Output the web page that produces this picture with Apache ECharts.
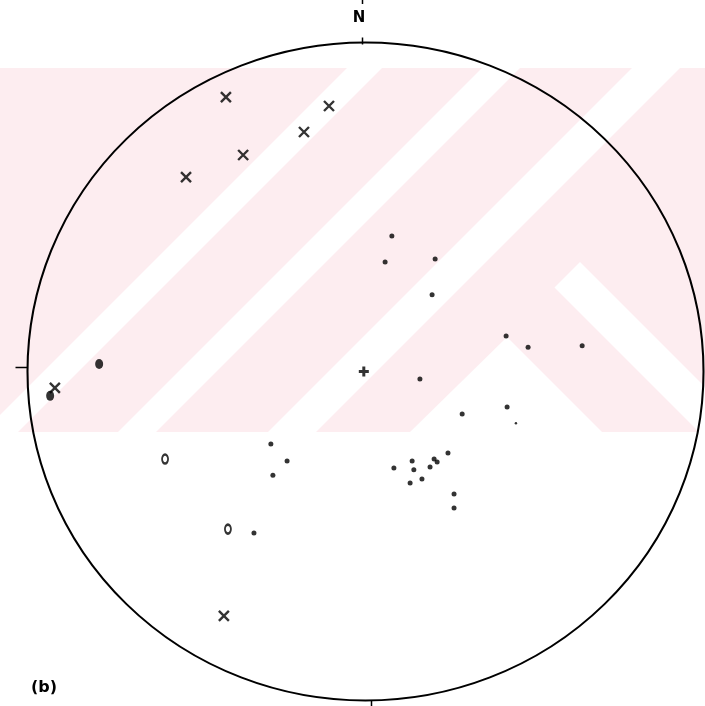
<!DOCTYPE html>
<html>
<head>
<meta charset="utf-8">
<script src="https://cdn.jsdelivr.net/npm/echarts@6/dist/echarts.min.js"></script>
<style>
  html, body { margin: 0; padding: 0; background: #fff; }
  #chart { width: 705px; height: 706px; }
</style>
</head>
<body>
<div id="chart"></div>
<script>
  // stereonet positions on the unit circle (x = east, y = north)
  var crossPts = [
    [-0.413, 0.834], [-0.108, 0.807], [-0.182, 0.728], [-0.362, 0.658],
    [-0.531, 0.591], [-0.919, -0.050], [-0.419, -0.743]
  ];
  var bigDots = [[-0.788, 0.023], [-0.933, -0.074]];
  var openCircles = [[-0.593, -0.266], [-0.407, -0.479]];
  var centerPt = [[-0.005, 0.0]];
  var smallDots = [
    [0.078, 0.412], [0.058, 0.333], [0.206, 0.342], [0.197, 0.233],
    [0.416, 0.108], [0.481, 0.074], [0.641, 0.078], [0.161, -0.023],
    [0.419, -0.108], [0.286, -0.129], [0.244, -0.248], [0.084, -0.293],
    [0.138, -0.272], [0.143, -0.299], [0.203, -0.266], [0.212, -0.275],
    [0.191, -0.290], [0.167, -0.327], [0.132, -0.339], [0.262, -0.372],
    [0.262, -0.415], [-0.280, -0.220], [-0.232, -0.272], [-0.274, -0.315],
    [-0.330, -0.491]
  ];
  var tinyDots = [[0.445, -0.157]];

  var ink = '#000';
  var chart = echarts.init(document.getElementById('chart'));

  chart.setOption({
    backgroundColor: '#fff',
    animation: false,
    grid: { left: 27.5, right: 1.5, top: 42.5, bottom: 5.5 },
    xAxis: { type: 'value', min: -1, max: 1, show: false },
    yAxis: { type: 'value', min: -1, max: 1, show: false },
    series: [
      {
        type: 'scatter', name: 'cross', data: crossPts, z: 6,
        symbol: 'path://M0,0L10,10M10,0L0,10', symbolSize: 10,
        itemStyle: { color: 'rgba(0,0,0,0)', borderColor: ink, borderWidth: 2.4 }
      },
      {
        type: 'scatter', name: 'big', data: bigDots, z: 6,
        symbol: 'circle', symbolSize: [8, 10],
        itemStyle: { color: ink }
      },
      {
        type: 'scatter', name: 'open', data: openCircles, z: 6,
        symbol: 'circle', symbolSize: [6, 9],
        itemStyle: { color: '#fff', borderColor: ink, borderWidth: 2.2 }
      },
      {
        type: 'scatter', name: 'centre', data: centerPt, z: 6,
        symbol: 'path://M3.5,0H6.5V3.5H10V6.5H6.5V10H3.5V6.5H0V3.5H3.5Z', symbolSize: 10,
        itemStyle: { color: ink }
      },
      {
        type: 'scatter', name: 'dots', data: smallDots, z: 6,
        symbol: 'circle', symbolSize: 5,
        itemStyle: { color: ink }
      },
      {
        type: 'scatter', name: 'tiny', data: tinyDots, z: 6,
        symbol: 'circle', symbolSize: 2.5,
        itemStyle: { color: ink }
      }
    ]
  });

  // outline circle, ticks, labels and the pink scan watermark
  var c0 = chart.convertToPixel({ gridIndex: 0 }, [0, 0]);
  var e1 = chart.convertToPixel({ gridIndex: 0 }, [1, 0]);
  var n1 = chart.convertToPixel({ gridIndex: 0 }, [0, 1]);
  var rx = e1[0] - c0[0];
  var ry = c0[1] - n1[1];
  var pink = '#fdedf0';

  function stripe(pts) {
    return { type: 'polygon', z: -1, silent: true, shape: { points: pts }, style: { fill: '#fff' } };
  }
  function tick(x1, y1, x2, y2) {
    return { type: 'line', z: 5, silent: true, shape: { x1: x1, y1: y1, x2: x2, y2: y2 }, style: { stroke: ink, lineWidth: 1.5 } };
  }

  chart.setOption({
    graphic: [
      { type: 'rect', z: -2, silent: true, shape: { x: 0, y: 68, width: 705, height: 364 }, style: { fill: pink } },
      stripe([[347, 68], [382, 68], [18, 432], [-17, 432]]),
      stripe([[482, 68], [520, 68], [156, 432], [118, 432]]),
      stripe([[632, 68], [680, 68], [316, 432], [268, 432]]),
      stripe([[507, 337], [602, 432], [410, 432]]),
      stripe([[580, 262], [750, 432], [699, 432], [554.5, 287.5]]),
      {
        type: 'circle', z: 5, silent: true,
        x: c0[0], y: c0[1], scaleX: rx / ry,
        shape: { cx: 0, cy: 0, r: ry },
        style: { fill: 'none', stroke: ink, lineWidth: 2, strokeNoScale: true }
      },
      tick(c0[0] - 3, n1[1] - 5, c0[0] - 3, n1[1] + 2),
      tick(c0[0] - 3, 0, c0[0] - 3, 4),
      tick(c0[0] - rx - 12, c0[1] - 4, c0[0] - rx, c0[1] - 4),
      tick(c0[0] + 6, c0[1] + ry, c0[0] + 6, c0[1] + ry + 6),
      {
        type: 'text', z: 5, x: 359, y: 18,
        style: { text: 'N', font: 'bold 15px "DejaVu Sans"', fill: ink, align: 'center', verticalAlign: 'middle' }
      },
      {
        type: 'text', z: 5, x: 44, y: 688,
        style: { text: '(b)', font: 'bold 16px "DejaVu Sans"', fill: ink, align: 'center', verticalAlign: 'middle' }
      }
    ]
  });
</script>
</body>
</html>
